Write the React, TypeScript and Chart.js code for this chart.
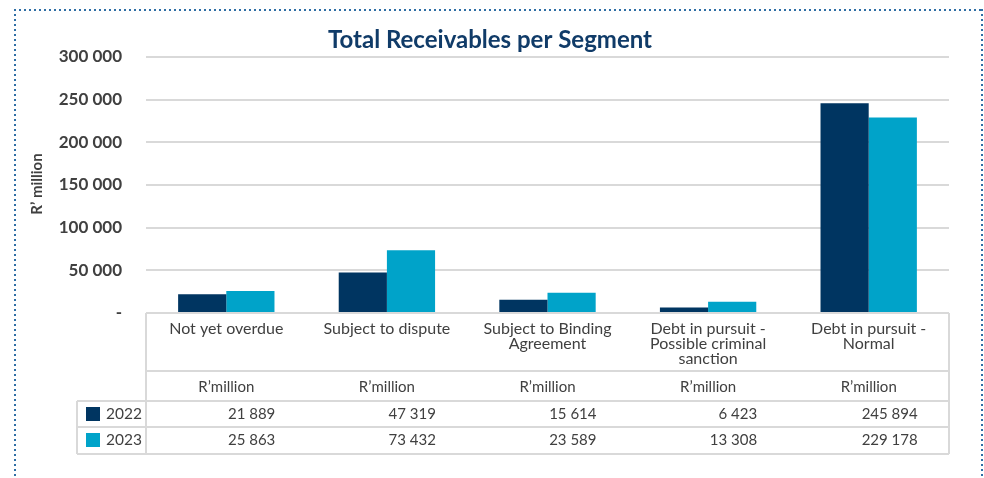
import React, { useEffect, useRef } from "react";
import { Chart, registerables } from "chart.js";

Chart.register(...registerables);

const categories: string[][] = [
  ["Not yet overdue"],
  ["Subject to dispute"],
  ["Subject to Binding", "Agreement"],
  ["Debt in pursuit -", "Possible criminal", "sanction"],
  ["Debt in pursuit -", "Normal"],
];
const unitLabel = "R\u2019million";
const series2022: number[] = [21889, 47319, 15614, 6423, 245894];
const series2023: number[] = [25863, 73432, 23589, 13308, 229178];
const seriesNames: string[] = ["2022", "2023"];
const seriesColors: string[] = ["#003561", "#00A3C9"];
const yTicks: number[] = [0, 50000, 100000, 150000, 200000, 250000, 300000];
const chartTitle = "Total Receivables per Segment";
const yTitle = "R\u2019 million";

const FONT = "Lato, 'Noto Sans', sans-serif";
const TEXT = "#404040";
const LINE = "#d9d9d9";

function fmt(n: number): string {
  if (n === 0) return "-";
  return String(n).replace(/\B(?=(\d{3})+(?!\d))/g, " ");
}

const tablePlugin = {
  id: "tablePlugin",
  afterDraw(chart: any) {
    const ctx: CanvasRenderingContext2D = chart.ctx;
    const area = chart.chartArea;
    const x = chart.scales.x;
    const W = chart.width;
    const H = chart.height;
    ctx.save();

    // dotted frame
    ctx.fillStyle = "#2f6ea5";
    for (let px = 14; px < W - 2; px += 5) ctx.fillRect(px, 9, 2, 2);
    for (let py = 9; py < H; py += 5) {
      ctx.fillRect(14, py, 2, 2);
      ctx.fillRect(981, py, 2, 2);
    }

    // title
    ctx.fillStyle = "#103b68";
    ctx.font = `bold 24px ${FONT}`;
    ctx.textAlign = "center";
    ctx.textBaseline = "middle";
    ctx.fillText(chartTitle, 490, 40);

    // y axis title
    ctx.save();
    ctx.translate(37, 184);
    ctx.rotate(-Math.PI / 2);
    ctx.fillStyle = TEXT;
    ctx.font = `bold 15px ${FONT}`;
    ctx.fillText(yTitle, 0, 0);
    ctx.restore();

    const top = area.bottom;
    const r1 = top + 58;
    const r2 = r1 + 30;
    const r3 = r2 + 26;
    const r4 = r3 + 27;
    const left = area.left;
    const right = area.right;
    const legLeft = 77;

    ctx.strokeStyle = LINE;
    ctx.lineWidth = 2;
    ctx.beginPath();
    ctx.moveTo(left, top); ctx.lineTo(right, top);
    ctx.moveTo(left, r1); ctx.lineTo(right, r1);
    ctx.moveTo(legLeft, r2); ctx.lineTo(right, r2);
    ctx.moveTo(legLeft, r3); ctx.lineTo(right, r3);
    ctx.moveTo(legLeft, r4); ctx.lineTo(right, r4);
    ctx.moveTo(left, top); ctx.lineTo(left, r4);
    ctx.moveTo(right, top); ctx.lineTo(right, r4);
    ctx.moveTo(legLeft, r2); ctx.lineTo(legLeft, r4);
    ctx.stroke();

    ctx.fillStyle = TEXT;
    ctx.textBaseline = "middle";
    const rows = [series2022, series2023];
    categories.forEach((lines, i) => {
      const cx = x.getPixelForValue(i);
      ctx.textAlign = "center";
      ctx.font = `16px ${FONT}`;
      lines.forEach((ln, j) => ctx.fillText(ln, cx, top + 16 + j * 15));
      ctx.font = `15px ${FONT}`;
      ctx.fillText(unitLabel, cx, r1 + 16);
      ctx.textAlign = "right";
      rows.forEach((row, k) => {
        const cy = (k === 0 ? r2 : r3) + 13;
        ctx.fillText(fmt(row[i]), cx + 49, cy);
      });
    });

    ctx.font = `15.5px ${FONT}`;
    seriesNames.forEach((name, k) => {
      const cy = (k === 0 ? r2 : r3) + 13;
      ctx.fillStyle = seriesColors[k];
      ctx.fillRect(86, cy - 7, 14, 14);
      ctx.fillStyle = TEXT;
      ctx.textAlign = "left";
      ctx.fillText(name, 106, cy);
    });

    ctx.restore();
  },
};

export default function App() {
  const ref = useRef<HTMLCanvasElement | null>(null);
  useEffect(() => {
    if (!ref.current) return;
    const chart = new Chart(ref.current, {
      type: "bar",
      data: {
        labels: categories.map((c) => c.join(" ")),
        datasets: [
          { label: seriesNames[0], data: series2022, backgroundColor: seriesColors[0], categoryPercentage: 0.6, barPercentage: 1 },
          { label: seriesNames[1], data: series2023, backgroundColor: seriesColors[1], categoryPercentage: 0.6, barPercentage: 1 },
        ],
      },
      options: {
        responsive: false,
        animation: false,
        layout: { padding: { left: 0, right: 35, top: 57, bottom: 165 } },
        plugins: { legend: { display: false }, title: { display: false }, tooltip: { enabled: false } },
        scales: {
          x: { display: false },
          y: {
            min: 0,
            max: 300000,
            afterBuildTicks: (s: any) => { s.ticks = yTicks.map((v) => ({ value: v })); },
            afterFit: (s: any) => { s.width = 146; },
            ticks: {
              callback: (v: any) => fmt(Number(v)),
              color: TEXT,
              font: { family: FONT, size: 17, weight: "bold" },
              padding: 24,
            },
            grid: { color: LINE, lineWidth: 2, drawTicks: false },
            border: { display: false },
          },
        },
      },
      plugins: [tablePlugin],
    });
    return () => chart.destroy();
  }, []);
  return (
    <div style={{ position: "fixed", left: 0, top: 0, width: 984, height: 478, background: "#fff" }}>
      <canvas ref={ref} width={984} height={478} style={{ display: "block" }} />
    </div>
  );
}
